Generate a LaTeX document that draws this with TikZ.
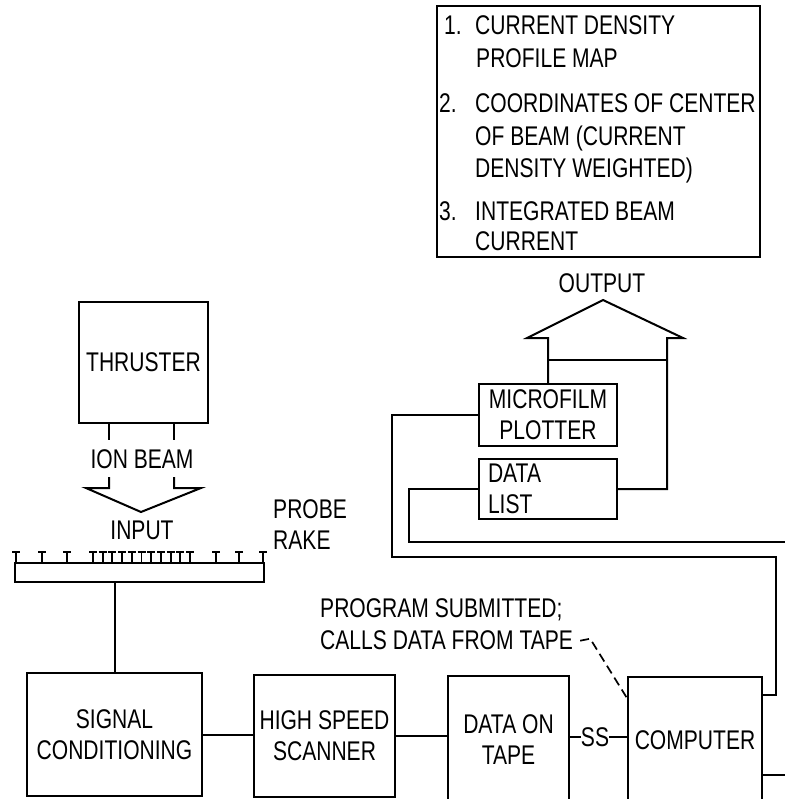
\documentclass[tikz,border=0pt]{standalone}
\usepackage{fontspec}
\setmainfont{Liberation Sans}[FakeStretch=0.78]
\begin{document}
\begin{tikzpicture}[x=1bp, y=-1bp,
  every node/.style={font=\fontsize{27bp}{31bp}\selectfont, inner sep=0pt},
  box/.style={draw, line width=2.1bp},
  wire/.style={line width=2bp, line join=miter},
  tooth/.style={line width=1.9bp},
  txt/.style={anchor=base west},
  leader/.style={line width=1.7bp, dash pattern=on 9bp off 5bp}]
\useasboundingbox (0,0) rectangle (785,799);
\clip (0,0) rectangle (785,799);

% output list
\node[box, minimum width=323bp, minimum height=251bp] (outbox) at (598.5,131.5) {};
\node[txt] (o1n) at (444,35) {1.};
\node[txt] (o1a) at (475,35) {CURRENT DENSITY};
\node[txt] (o1b) at (476,68) {PROFILE MAP};
\node[txt] (o2n) at (439,112) {2.};
\node[txt] (o2a) at (475,112) {COORDINATES OF CENTER};
\node[txt] (o2b) at (475,145) {OF BEAM (CURRENT};
\node[txt] (o2c) at (475,177) {DENSITY WEIGHTED)};
\node[txt] (o3n) at (439,220) {3.};
\node[txt] (o3a) at (475,220) {INTEGRATED BEAM};
\node[txt] (o3b) at (475,250) {CURRENT};

% output arrow
\node (outlbl) at (602,283) {OUTPUT};
\coordinate (otip) at (603,300);
\node[box, minimum width=138bp, minimum height=62bp, align=center] (mf) at (548,415) {MICROFILM\\PLOTTER};
\node[box, minimum width=138bp, minimum height=60bp, text width=120bp, align=left] (dl) at (548,489) {DATA\\LIST};
\draw[wire] (mf.north) -- (548,338) -- (527,338) -- (otip) -- (683,338) -- (667,338) |- (dl.east);
\draw[wire] (548,360) -- (667,360);

% thruster and input
\node[box, minimum width=129bp, minimum height=121bp] (thr) at (143.5,362.5) {THRUSTER};
\draw[wire] (thr.south -| 109,0) -- (109,440);
\draw[wire] (thr.south -| 174,0) -- (174,440);
\node (ion) at (142,459) {ION BEAM};
\coordinate (itip) at (141,512);
\draw[wire] (109,477) -- (109,488) -- (86,488) -- (itip) -- (201,488) -- (174,488) -- (174,477);
\node (inp) at (142,530) {INPUT};
\node[txt] (prb1) at (273,518) {PROBE};
\node[txt] (prb2) at (273,549) {RAKE};

% probe rake
\node[box, minimum width=249bp, minimum height=19bp] (rake) at (139.5,572.5) {};
\foreach \x in {16,42,67,93,102.7,112.4,122.1,131.8,141.5,151.2,160.9,170.6,180.3,190,216,239,263}
  \draw[tooth] (\x,563) -- (\x,552) (\x-4,552) -- (\x+4,552);

% bottom row
\node[box, minimum width=175bp, minimum height=123bp, align=center] (sig) at (114.5,734.5) {SIGNAL\\CONDITIONING};
\node[box, minimum width=141bp, minimum height=122bp, align=center] (scan) at (324.5,736) {HIGH SPEED\\SCANNER};
\node[box, minimum width=121bp, minimum height=127bp, align=center] (tape) at (508.5,739.5) {DATA ON\\TAPE};
\node[box, minimum width=134bp, minimum height=126bp] (cmp) at (695,740) {COMPUTER};
\node (ss) at (595,737) {SS};

\draw[wire] (rake.south -| sig.north) -- (sig.north);
\draw[wire] (sig.east) -- (sig.east -| scan.west);
\draw[wire] (scan.east) -- (scan.east -| tape.west);
\draw[wire] (tape.east |- ss) -- (ss.west);
\draw[wire] (ss.east) -- (ss -| cmp.west);

% program note
\node[txt] (prog1) at (320,617) {PROGRAM SUBMITTED;};
\node[txt] (prog2) at (320,649) {CALLS DATA FROM TAPE};
\coordinate (ldr) at ([xshift=7bp, yshift=-1bp]prog2.east);
\draw[leader] (ldr) -- ++(10,-2) -- (cmp.west |- 0,698);

% feedback wires
\coordinate (edgeA) at (790,542);
\coordinate (edgeB) at (790,775);
\draw[wire] (mf.west) -- (392,415) -- (392,557) -- (776,557) -- (776,695) -- (cmp.east |- 0,695);
\draw[wire] (dl.west) -- (409,489) -- (409,542) -- (edgeA);
\draw[wire] (cmp.east |- edgeB) -- (edgeB);
\end{tikzpicture}
\end{document}
